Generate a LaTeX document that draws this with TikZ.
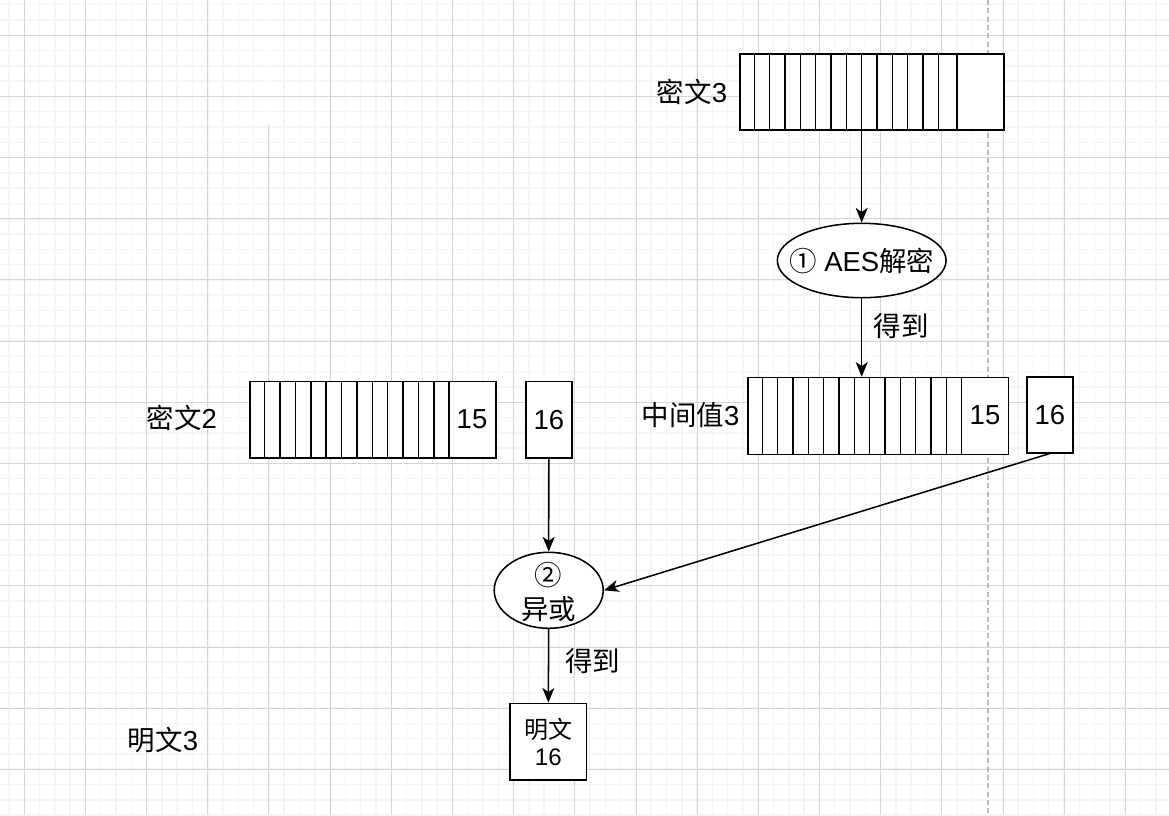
\documentclass[tikz,border=0pt]{standalone}
\usepackage{fontspec}
\setmainfont{Liberation Sans}
\newfontfamily\cjk{Noto Sans CJK SC}
\usetikzlibrary{arrows.meta,shapes.geometric,calc}
\definecolor{gridmajor}{HTML}{D6D6D6}
\definecolor{gridminor}{HTML}{F5F5F5}
\definecolor{pagebreak}{HTML}{BBBBBB}
\begin{document}
\begin{tikzpicture}[x=0.75pt,y=-0.75pt,
  cellbox/.style={draw=black, line width=1.15pt, fill=white, inner sep=0pt, rectangle},
  oval/.style={draw=black, line width=1.15pt, fill=white, ellipse, inner sep=0pt},
  lbl/.style={font=\fontsize{20.6}{26}\selectfont, inner sep=0pt, align=center},
  smalllbl/.style={font=\fontsize{18}{20.6}\selectfont, inner sep=0pt, align=center},
  conn/.style={line width=1.15pt, -{Stealth[length=11pt,width=9pt,inset=3pt]}},
  divider/.style={line width=1.15pt}]
\useasboundingbox (0,0) rectangle (1169,815);
\fill[white] (0,0) rectangle (1169,815);
% grid
\foreach \i in {0,...,76} \draw[gridminor, line width=1.1pt] (9.0+15.29*\i,0) -- (9.0+15.29*\i,815);
\foreach \i in {0,...,53} \draw[gridminor, line width=1.1pt] (0,4.7+15.29*\i) -- (1169,4.7+15.29*\i);
\draw[white, line width=1.6pt] (268.9,0) -- (268.9,125);
\foreach \i in {0,1,2,3,5,6,7,8,9,10,11,12,13,14,15,16,17,18} \draw[gridmajor, line width=0.75pt] (24.3+61.17*\i,0) -- (24.3+61.17*\i,815);
\draw[gridmajor, line width=0.75pt] (268.98,125) -- (268.98,815);
\foreach \i in {0,...,12} \draw[gridmajor, line width=0.75pt] (0,35.3+61.17*\i) -- (1169,35.3+61.17*\i);
\draw[pagebreak, line width=1.1pt, dash pattern=on 3.75pt off 2.5pt] (988,0) -- (988,815);

% 密文3
\node[cellbox, minimum width=264*0.75pt, minimum height=76*0.75pt, anchor=north west] (c3) at (739,53.3) {};
\foreach \i in {1,...,13} \draw[divider] ($(c3.north west)+(15.33*\i,0)$) -- ($(c3.south west)+(15.33*\i,0)$);
\draw[divider] ($(c3.north west)+(218,0)$) -- ($(c3.south west)+(218,0)$);
\node[lbl] (c3lbl) at (692,92) {{\cjk 密文}3};

% ① AES解密
\node[oval, minimum width=168.7*0.75pt, minimum height=74.4*0.75pt] (e1) at (861.7,260.5) {};
\node[lbl] (e1txt) at (e1.center) {{\cjk ①} AES{\cjk 解密}};

% 中间值3
\node[cellbox, minimum width=260.7*0.75pt, minimum height=77*0.75pt, anchor=north west] (m3) at (747,376.7) {};
\foreach \i in {1,...,14} \draw[divider] ($(m3.north west)+(15.33*\i,0)$) -- ($(m3.south west)+(15.33*\i,0)$);
\node[lbl] (m15) at (985,415) {15};
\node[cellbox, minimum width=46*0.75pt, minimum height=76*0.75pt, anchor=north west] (m16) at (1026,376) {};
\node[lbl] at (m16.center) {16};
\node[lbl] (m3lbl) at (690.5,415) {{\cjk 中间值}3};

% 密文2
\node[cellbox, minimum width=245.7*0.75pt, minimum height=76.6*0.75pt, anchor=north west] (c2) at (249.3,380.7) {};
\foreach \i in {1,...,13} \draw[divider] ($(c2.north west)+(15.38*\i,0)$) -- ($(c2.south west)+(15.38*\i,0)$);
\node[lbl] (c15) at (472,419) {15};
\node[cellbox, minimum width=46*0.75pt, minimum height=76.6*0.75pt, anchor=north west] (c16) at (525,380.7) {};
\node[lbl] at (c16.center) {16};
\node[lbl] (c2lbl) at (181.7,418) {{\cjk 密文}2};

% ② 异或
\node[oval, minimum width=109*0.75pt, minimum height=76*0.75pt] (e2) at (548.7,590.3) {};
\node[lbl] (e2txt) at (548.7,592) {{\cjk ②}\\{\cjk 异或}};

% 明文 16
\node[cellbox, minimum width=76.7*0.75pt, minimum height=76.7*0.75pt] (p16) at (548.3,741.7) {};
\node[smalllbl] at (548.3,742) {{\cjk 明文}\\16};
\node[lbl] (p3lbl) at (163,740) {{\cjk 明文}3};

% connectors
\draw[conn] (e1.north |- c3.south) -- (e1.north);
\draw[conn] (e1.south) -- (e1.south |- m3.north);
\node[lbl] (get1) at (901,326) {{\cjk 得到}};
\draw[conn] (c16.south) -- (e2.north);
\draw[conn] (m16.south) -- (e2.east);
\draw[conn] (e2.south) -- (p16.north);
\node[lbl] (get2) at (592.5,661) {{\cjk 得到}};
\end{tikzpicture}
\end{document}
